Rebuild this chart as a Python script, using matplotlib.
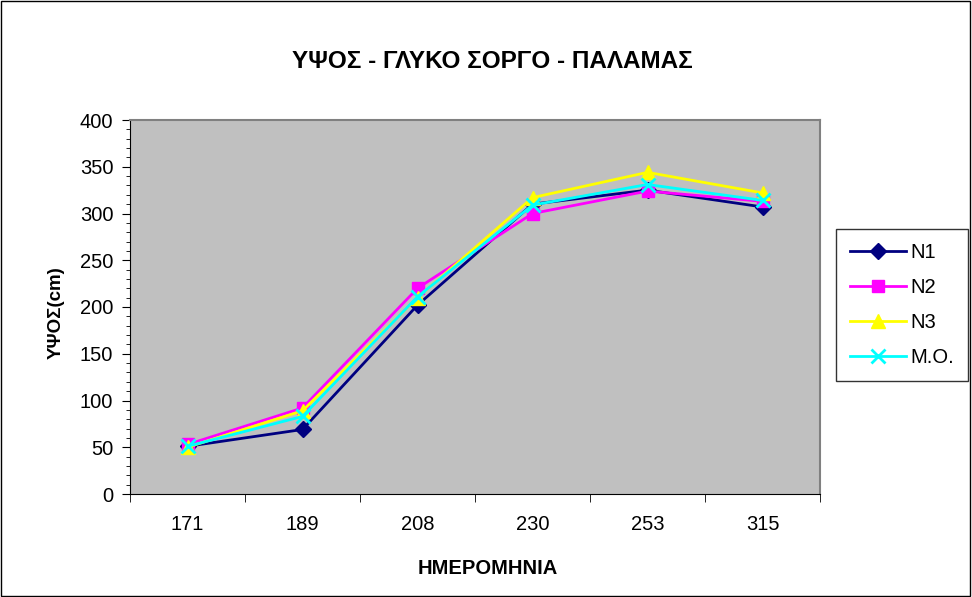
import numpy as np
import matplotlib.pyplot as plt
from matplotlib.patches import Rectangle
from matplotlib.ticker import MultipleLocator

plt.rcParams['font.family'] = ['Liberation Sans', 'DejaVu Sans']

dates = ['171', '189', '208', '230', '253', '315']
n1 = [51, 69, 202, 310, 325, 307]
n2 = [53, 92, 220, 300, 324, 313]
n3 = [50, 89, 210, 317, 344, 322]
mo = [51, 83, 211, 309, 331, 314]

W, H = 972, 597
fig = plt.figure(figsize=(W / 100, H / 100), dpi=100)
fig.patches.append(Rectangle((0.001, 0.001), 0.997, 0.997, transform=fig.transFigure,
                             fill=False, edgecolor='black', linewidth=1))
ax = fig.add_axes([130 / W, 103 / H, 690 / W, 374 / H])
ax.set_facecolor('#C0C0C0')

x = np.arange(len(dates))
ax.plot(x, n1, color='#000080', marker='D', markersize=8, linewidth=2, label='N1', clip_on=False)
ax.plot(x, n2, color='#FF00FF', marker='s', markersize=8, linewidth=2, label='N2', clip_on=False)
ax.plot(x, n3, color='#FFFF00', marker='^', markersize=10, linewidth=2, label='N3', clip_on=False)
ax.plot(x, mo, color='#00FFFF', marker='x', markersize=10, markeredgewidth=2, linewidth=2,
        label='M.O.', clip_on=False)

ax.set_xlim(-0.5, len(dates) - 0.5)
ax.set_ylim(0, 400)
ax.set_xticks(x)
ax.set_xticklabels(dates)
ax.set_xticks(np.arange(-0.5, len(dates)), minor=True)
ax.tick_params(axis='x', which='major', length=0, pad=15, labelsize=14.5)
ax.tick_params(axis='x', which='minor', length=6, direction='out', color='black')
ax.yaxis.set_major_locator(MultipleLocator(50))
ax.yaxis.set_minor_locator(MultipleLocator(10))
ax.tick_params(axis='y', which='major', length=6, pad=6, labelsize=14.5, color='black')
ax.tick_params(axis='y', which='minor', length=3, color='black')

for side in ['top', 'right']:
    ax.spines[side].set_color('#808080')
    ax.spines[side].set_linewidth(1.5)
for side in ['left', 'bottom']:
    ax.spines[side].set_color('black')

fig.text(492 / W, 1 - 62 / H, 'ΥΨΟΣ - ΓΛΥΚΟ ΣΟΡΓΟ - ΠΑΛΑΜΑΣ', fontsize=17.5, fontweight='bold',
         ha='center', va='center')
fig.text(488 / W, 1 - 569 / H, 'ΗΜΕΡΟΜΗΝΙΑ', fontsize=14.5, fontweight='bold',
         ha='center', va='center')
fig.text(56 / W, 1 - 313 / H, 'ΥΨΟΣ(cm)', fontsize=13.5, fontweight='bold',
         ha='center', va='center', rotation=90)

leg = ax.legend(loc='center left', bbox_to_anchor=(836 / W, 1 - 305 / H),
                bbox_transform=fig.transFigure, fontsize=14.5, frameon=True, fancybox=False,
                borderpad=0.7, labelspacing=0.8, handlelength=2.8, handletextpad=0.2,
                borderaxespad=0)
leg.get_frame().set_edgecolor('black')
leg.get_frame().set_linewidth(1)

fig.savefig('out.png', dpi=100)
